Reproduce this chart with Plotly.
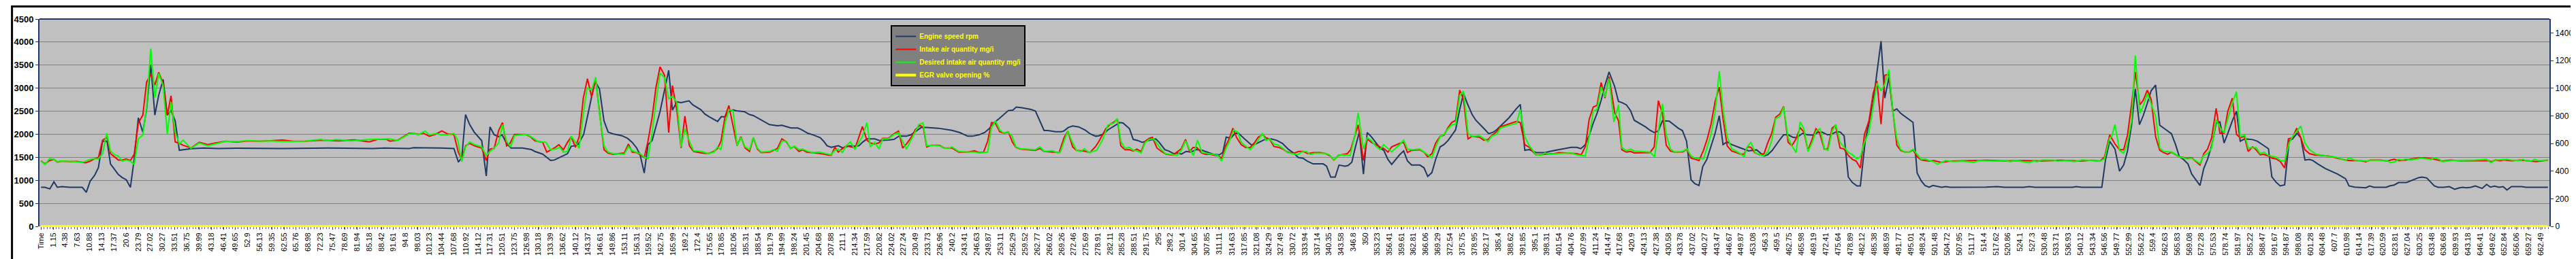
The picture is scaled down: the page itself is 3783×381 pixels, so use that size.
import plotly.graph_objects as go

# ---------------- data (time s, value) ----------------
tick_labels = ["Time", "1.15", "4.38", "7.63", "10.88", "14.13", "17.37", "20.6", "23.79", "27.02", "30.27",
    "33.51", "36.75", "39.99", "43.18", "46.41", "49.65", "52.9", "56.13", "59.35", "62.55", "65.76", "68.98",
    "72.23", "75.47", "78.69", "81.94", "85.18", "88.42", "91.61", "94.8", "98.03", "101.23", "104.44", "107.68",
    "110.92", "114.12", "117.31", "120.51", "123.75", "126.98", "130.18", "133.39", "136.62", "140.12", "143.37",
    "146.61", "149.86", "153.11", "156.31", "159.52", "162.75", "165.99", "169.2", "172.4", "175.65", "178.85",
    "182.06", "185.31", "188.54", "191.79", "194.99", "198.24", "201.45", "204.68", "207.88", "211.1", "214.34",
    "217.59", "220.82", "224.02", "227.24", "230.49", "233.73", "236.96", "240.2", "243.41", "246.63", "249.87",
    "253.11", "256.29", "259.52", "262.77", "266.02", "269.26", "272.46", "275.69", "278.91", "282.11", "285.28",
    "288.51", "291.75", "295", "298.2", "301.4", "304.65", "307.85", "311.11", "314.63", "317.85", "321.08",
    "324.29", "327.49", "330.72", "333.94", "337.14", "340.35", "343.58", "346.8", "350", "353.23", "356.41",
    "359.61", "362.81", "366.06", "369.29", "372.54", "375.75", "378.95", "382.17", "385.4", "388.62", "391.85",
    "395.1", "398.31", "401.54", "404.76", "407.99", "411.24", "414.47", "417.68", "420.9", "424.13", "427.38",
    "430.58", "433.78", "437.02", "440.27", "443.47", "446.67", "449.87", "453.08", "456.3", "459.5", "462.75",
    "465.98", "469.19", "472.41", "475.64", "478.89", "482.12", "485.38", "488.59", "491.77", "495.01", "498.24",
    "501.48", "504.72", "507.95", "511.17", "514.4", "517.62", "520.86", "524.1", "527.3", "530.48", "533.71",
    "536.93", "540.12", "543.34", "546.56", "549.77", "552.99", "556.22", "559.4", "562.63", "565.83", "569.08",
    "572.28", "575.53", "578.74", "581.97", "585.22", "588.47", "591.67", "594.87", "598.08", "601.28", "604.48",
    "607.7", "610.98", "614.14", "617.39", "620.59", "623.81", "627.04", "630.25", "633.48", "636.68", "639.93",
    "643.18", "646.41", "649.62", "652.84", "656.06", "659.27", "662.49"]
time_row_position = -2.08  # the "Time" header category sits one label step before 1.15

engine_speed_rpm = [
    (-2.06, 848), (-1.03, 848), (0.29, 813), (1.37, 966), (2.27, 848), (3.48, 863), (5.5, 848), (7.0, 853),
    (8.9, 848), (9.98, 740), (11.0, 981), (12.2, 1109), (13.2, 1277), (14.3, 1849), (15.5, 1849), (16.4, 1356),
    (17.5, 1233), (18.5, 1124), (19.5, 1060), (20.6, 1011), (21.7, 848), (22.7, 1454), (23.8, 2357), (25.0, 2046),
    (26.0, 2539), (27.1, 3515), (28.2, 2416), (29.2, 2835), (30.4, 3190), (31.5, 2416), (32.5, 2514), (33.6, 2292),
    (34.7, 1652), (35.7, 1666), (37.8, 1686), (41.1, 1701), (45, 1691), (50, 1696), (55, 1691), (60, 1696),
    (62.1, 1691), (74.2, 1701), (86.2, 1691), (89.2, 1701), (95.8, 1691), (97.0, 1706), (100.6, 1706),
    (104.2, 1701), (107.7, 1691), (108.9, 1395), (109.8, 1494), (110.8, 2426), (111.9, 2209), (113.1, 2046),
    (115.1, 1859), (116.3, 1094), (117.3, 2159), (118.4, 1987), (119.6, 1947), (120.5, 1987), (121.7, 1800),
    (122.9, 1701), (125.9, 1701), (128.3, 1666), (129.2, 1627), (131.3, 1568), (132.5, 1489), (133.4, 1430),
    (134.4, 1440), (136.8, 1528), (137.9, 1578), (138.9, 1740), (140.0, 1750), (140.7, 1775), (142.2, 1997),
    (143.1, 2342), (144.3, 2835), (145.2, 3155), (146.4, 2983), (147.6, 2292), (148.7, 2046), (150.0, 2007),
    (151.2, 1987), (152.4, 1967), (153.9, 1908), (155.1, 1824), (156.3, 1701), (157.2, 1553), (158.3, 1159),
    (159.3, 1775), (160.4, 1864), (161.4, 2145), (162.5, 2490), (163.7, 2958), (164.8, 3387), (165.8, 2524),
    (167.0, 2702), (168.1, 2687), (170.2, 2726), (171.2, 2638), (173.4, 2529), (174.4, 2440), (175.6, 2376),
    (177.8, 2278), (178.8, 2381), (179.8, 2376), (180.7, 2490), (181.9, 2529), (182.8, 2509), (184.9, 2490),
    (186.3, 2426), (187.3, 2406), (189.8, 2292), (191.6, 2209), (193.7, 2184), (194.9, 2194), (197.3, 2135),
    (199.1, 2135), (200.0, 2105), (201.8, 2021), (203.3, 1982), (205.1, 1923), (206.0, 1849), (206.9, 1750),
    (208.0, 1716), (209.9, 1750), (211.1, 1701), (212.9, 1750), (214.4, 1740), (215.4, 1750), (216.3, 1824),
    (217.5, 1898), (219.6, 1898), (220.8, 1864), (223.2, 1873), (224.7, 1888), (226.1, 1962), (228.0, 1957),
    (229.2, 1987), (230.4, 2056), (231.9, 2145), (233.4, 2145), (236.5, 2130), (240.1, 2085), (242.2, 2036),
    (244.3, 1957), (245.5, 1957), (247.3, 1987), (248.8, 2036), (250.0, 2120), (251.2, 2243), (252.7, 2342),
    (255.1, 2514), (256.3, 2524), (257.2, 2588), (258.7, 2573), (261.1, 2539), (262.3, 2504), (263.5, 2292),
    (264.6, 2080), (265.6, 2080), (267.7, 2056), (269.2, 2056), (269.9, 2071), (271.0, 2145), (272.2, 2179),
    (273.8, 2159), (275.6, 2085), (276.8, 2011), (278.3, 1957), (279.2, 1967), (280.4, 2007), (281.6, 2095),
    (282.3, 2130), (283.5, 2194), (284.7, 2253), (285.6, 2243), (287.3, 2120), (288.3, 1888), (289.5, 1864),
    (290.7, 1824), (292.2, 1864), (294.3, 1898), (295.2, 1824), (296.7, 1666), (297.7, 1637), (299.1, 1578),
    (300.0, 1592), (301.1, 1568), (302.4, 1627), (303.6, 1612), (305.1, 1666), (306.6, 1652), (308.1, 1612),
    (309.6, 1563), (311.2, 1553), (312.1, 1602), (313.0, 1937), (314.2, 1913), (315.4, 2021), (316.3, 2021),
    (318.1, 1883), (319.6, 1775), (320.5, 1775), (322.0, 1834), (323.2, 1883), (324.1, 1888), (325.0, 1898),
    (326.5, 1864), (328.0, 1800), (329.5, 1676), (330.9, 1592), (332.2, 1494), (333.4, 1479), (334.6, 1415),
    (336.1, 1356), (338.8, 1356), (339.7, 1306), (340.8, 1070), (342.0, 1070), (343.0, 1331), (344.6, 1306),
    (345.4, 1321), (346.4, 1390), (347.3, 1701), (348.4, 2046), (349.5, 1134), (350.5, 2036), (351.6, 1947),
    (352.7, 1824), (353.9, 1701), (354.9, 1652), (356.0, 1454), (357.0, 1346), (358.1, 1454), (359.1, 1553),
    (360.2, 1637), (361.2, 1420), (362.3, 1331), (364.5, 1331), (365.6, 1272), (366.6, 1085), (367.7, 1168),
    (368.7, 1454), (369.9, 1726), (370.9, 1775), (372.0, 1864), (373.0, 1987), (374.0, 2095), (375.1, 2539),
    (376.1, 2884), (377.2, 2652), (378.4, 2426), (379.4, 2302), (380.6, 2209), (381.7, 2110), (382.8, 2011),
    (384.0, 2046), (384.9, 2095), (386.1, 2194), (388.2, 2357), (390.0, 2539), (391.2, 2647), (392.4, 1652),
    (393.6, 1666), (395.4, 1602), (397.8, 1602), (399.0, 1627), (400.5, 1652), (402.3, 1686), (404.7, 1716),
    (406.2, 1716), (407.3, 1686), (408.5, 1775), (409.5, 1972), (410.6, 2243), (411.6, 2450), (412.7, 2736),
    (413.7, 3057), (414.8, 3352), (416.3, 3032), (417.3, 2712), (418.2, 2687), (419.4, 2638), (420.5, 2514),
    (421.5, 2302), (422.7, 2243), (424.5, 2159), (425.7, 2085), (426.8, 2036), (427.9, 2071), (429.0, 2292),
    (430.8, 2283), (432.0, 2204), (433.2, 2130), (434.3, 2080), (435.4, 1849), (436.6, 1011), (437.6, 927),
    (438.7, 887), (439.7, 1297), (440.8, 1454), (441.8, 1701), (443.0, 2021), (444.1, 2401), (445.1, 1775),
    (446.2, 1834), (447.4, 1775), (449.8, 1701), (451.9, 1637), (454.0, 1661), (456.0, 1528), (457.0, 1553),
    (458.2, 1652), (460.0, 1859), (461.2, 1987), (462.4, 1987), (463.6, 1937), (464.6, 1923), (466.3, 2021),
    (467.5, 1987), (469.0, 1982), (470.2, 2036), (471.4, 2046), (472.9, 1987), (473.8, 1997), (475.4, 2056),
    (476.3, 2046), (477.3, 1962), (478.4, 1070), (479.5, 951), (480.7, 878), (481.6, 878), (482.9, 1849),
    (483.9, 2243), (485.0, 2687), (486.0, 3328), (487.1, 4018), (488.1, 2785), (489.2, 3229), (490.2, 2504),
    (491.3, 2549), (492.3, 2455), (493.4, 2391), (494.6, 2317), (495.6, 2258), (496.7, 1159), (497.8, 986),
    (498.8, 887), (499.9, 848), (500.9, 887), (501.9, 873), (503.2, 848), (504.3, 863), (505.5, 848),
    (515.0, 853), (518.0, 863), (520.0, 848), (525.0, 848), (526.5, 863), (528.0, 848), (538.0, 848),
    (539.0, 863), (540.5, 848), (545.8, 848), (546.8, 1454), (547.9, 1849), (549.3, 1676), (550.5, 1198),
    (551.6, 1331), (552.6, 1627), (553.7, 2194), (554.7, 2983), (555.8, 2209), (556.8, 2401), (557.9, 2672),
    (558.9, 2943), (560.1, 3066), (561.2, 2194), (562.2, 2135), (564.3, 2011), (565.4, 1775), (566.4, 1514),
    (567.5, 1454), (568.7, 1356), (569.7, 1134), (570.8, 1011), (571.9, 887), (572.9, 1257), (573.9, 1454),
    (575.0, 1750), (576.2, 2243), (577.2, 2268), (578.3, 1809), (579.3, 2021), (580.5, 2292), (581.6, 2500),
    (582.6, 1849), (583.8, 1898), (585.9, 1883), (587.1, 1849), (588.9, 1750), (590.1, 1686), (591.0, 1075),
    (592.1, 961), (593.2, 878), (594.4, 902), (595.6, 1859), (596.5, 1898), (597.7, 2021), (598.7, 1923),
    (599.8, 1440), (601.0, 1454), (601.9, 1430), (603.2, 1356), (605.2, 1257), (608.5, 1134), (610.6, 1035),
    (611.5, 878), (613.0, 853), (616.0, 838), (617.0, 878), (618.1, 848), (621.4, 848), (622.3, 878),
    (623.5, 897), (624.7, 951), (626.8, 951), (628.9, 1021), (630.1, 1060), (631.0, 1070), (632.2, 1050),
    (633.1, 971), (634.2, 878), (635.2, 848), (636.7, 848), (638.2, 863), (639.6, 804), (640.9, 838),
    (641.8, 848), (642.7, 838), (643.9, 848), (645.1, 878), (646.9, 823), (648.1, 912), (649.1, 853),
    (650.2, 873), (651.4, 848), (652.5, 863), (653.5, 789), (654.7, 863), (657.4, 863), (658.6, 848),
    (664.4, 848)]

intake_air_mg = [
    (-2.06, 475), (-1.03, 452), (0.2, 476), (1.37, 485), (2.27, 465), (3.48, 472), (5.5, 468), (7.5, 470),
    (9.8, 460), (11.0, 472), (12.2, 490), (13.2, 498), (14.3, 624), (15.5, 644), (16.4, 526), (17.5, 501),
    (18.5, 480), (19.5, 480), (20.6, 488), (21.7, 476), (22.7, 522), (23.8, 748), (25.0, 805), (26.0, 1043),
    (27.1, 1101), (28.2, 1022), (29.2, 1114), (30.4, 1035), (31.5, 802), (32.5, 945), (33.6, 611), (34.7, 600),
    (35.7, 587), (37.8, 567), (40.0, 608), (42.3, 591), (44.1, 603), (47.1, 616), (50, 610), (53, 618),
    (56, 616), (59, 620), (62.1, 624), (65, 616), (68, 616), (72.3, 623), (77.1, 619), (81.4, 626), (85.2, 611),
    (87.4, 629), (89.8, 629), (90.7, 616), (92.8, 624), (95.8, 674), (97.0, 672), (98.3, 665), (99.5, 674),
    (101.2, 652), (103.0, 669), (104.5, 690), (106.0, 669), (107.7, 665), (108.9, 534), (109.8, 485),
    (110.8, 583), (111.9, 600), (113.2, 583), (115.1, 567), (116.3, 476), (117.3, 559), (118.4, 564),
    (119.6, 693), (120.6, 751), (121.7, 583), (122.6, 600), (123.8, 665), (126.8, 665), (128.0, 649),
    (129.2, 619), (131.3, 608), (132.4, 537), (134.4, 567), (135.6, 591), (136.8, 554), (137.9, 608),
    (138.9, 649), (140.0, 572), (141.0, 649), (142.1, 928), (143.2, 1068), (144.3, 937), (145.4, 1060),
    (146.4, 830), (147.6, 555), (148.7, 529), (150.0, 521), (151.5, 526), (153.0, 531), (154.1, 596),
    (155.1, 537), (156.3, 534), (157.2, 518), (158.3, 498), (159.3, 616), (160.4, 789), (161.4, 1002),
    (162.5, 1155), (163.7, 1093), (164.8, 679), (165.8, 1019), (167.0, 833), (168.1, 567), (169.1, 797),
    (170.3, 583), (171.4, 542), (173.5, 531), (175.3, 526), (176.8, 542), (177.8, 564), (178.7, 616),
    (179.8, 797), (180.8, 874), (181.9, 731), (183.0, 583), (184.0, 649), (185.1, 567), (186.3, 542),
    (187.3, 641), (188.4, 559), (189.4, 534), (191.7, 537), (193.7, 564), (194.9, 633), (196.1, 611),
    (197.2, 564), (198.2, 578), (199.4, 542), (200.4, 554), (201.5, 537), (203.0, 534), (205.4, 526),
    (206.9, 518), (208.0, 514), (209.0, 572), (209.9, 537), (210.8, 559), (212.0, 583), (213.2, 575),
    (214.4, 570), (215.4, 649), (216.3, 723), (217.5, 624), (218.4, 603), (219.6, 596), (220.8, 605),
    (221.7, 637), (223.2, 637), (224.7, 670), (225.9, 690), (227.0, 567), (228.0, 596), (229.2, 641),
    (230.4, 702), (231.6, 731), (232.5, 715), (233.4, 575), (234.6, 587), (236.8, 587), (238.0, 567),
    (240.1, 567), (241.9, 537), (244.3, 537), (246.1, 547), (247.3, 534), (248.5, 537), (249.6, 616),
    (250.6, 751), (251.6, 748), (252.8, 685), (253.9, 674), (255.1, 682), (256.2, 608), (257.1, 572),
    (258.3, 559), (262.3, 550), (263.5, 564), (264.6, 542), (267.1, 537), (268.6, 534), (269.9, 641),
    (270.9, 690), (272.2, 575), (273.2, 550), (275.3, 545), (276.8, 534), (278.3, 578), (279.2, 616),
    (281.0, 706), (282.2, 739), (283.2, 756), (284.1, 777), (285.0, 583), (286.1, 555), (287.3, 554),
    (288.3, 545), (289.3, 559), (290.4, 542), (291.5, 616), (292.5, 636), (293.4, 644), (294.6, 567),
    (295.8, 542), (297.0, 522), (298.2, 518), (299.1, 518), (300.0, 539), (301.1, 562), (302.2, 629),
    (303.3, 542), (304.2, 570), (305.2, 570), (306.5, 531), (307.5, 521), (308.7, 521), (309.9, 514),
    (310.8, 513), (311.8, 493), (312.9, 583), (313.8, 633), (314.8, 710), (315.8, 641), (317.0, 591),
    (318.2, 570), (319.4, 570), (320.6, 608), (321.5, 644), (322.7, 665), (323.6, 641), (324.5, 633),
    (325.7, 578), (326.9, 572), (328.1, 559), (329.3, 537), (330.8, 526), (332.3, 542), (333.5, 542),
    (334.7, 526), (336.2, 534), (338.0, 534), (339.5, 526), (340.7, 509), (341.6, 480), (342.8, 513),
    (344.3, 521), (345.2, 526), (346.1, 555), (347.2, 649), (348.1, 734), (349.5, 476), (350.5, 633),
    (351.6, 608), (352.7, 591), (353.9, 575), (354.9, 564), (356.0, 537), (357.0, 575), (359.1, 600),
    (360.2, 608), (361.2, 534), (362.3, 550), (364.5, 554), (365.6, 537), (366.6, 504), (367.7, 526),
    (368.7, 603), (369.9, 652), (370.9, 660), (372.0, 715), (373.0, 752), (374.0, 767), (375.1, 986),
    (376.1, 920), (377.3, 633), (378.4, 652), (380.3, 646), (381.5, 624), (382.6, 628), (383.6, 657),
    (384.9, 685), (385.9, 720), (388.2, 739), (390.2, 759), (391.2, 751), (392.4, 591), (393.6, 572),
    (394.5, 542), (395.4, 518), (396.6, 518), (397.8, 522), (400.2, 526), (401.4, 534), (404.7, 531),
    (406.2, 526), (407.4, 518), (408.5, 578), (409.5, 772), (410.6, 863), (411.6, 876), (412.7, 1040),
    (413.7, 928), (414.8, 1084), (416.3, 822), (417.3, 764), (418.2, 554), (419.4, 537), (420.5, 542),
    (421.5, 531), (425.7, 534), (426.8, 575), (427.9, 909), (429.0, 813), (430.0, 587), (431.1, 545),
    (432.2, 537), (434.4, 539), (435.5, 559), (436.6, 493), (437.7, 485), (438.7, 476), (439.9, 550),
    (440.9, 633), (441.9, 739), (443.0, 904), (444.1, 1007), (445.1, 780), (446.2, 583), (447.4, 545),
    (448.6, 534), (449.7, 522), (450.7, 522), (451.6, 575), (452.5, 572), (453.6, 531), (454.9, 518),
    (456.0, 526), (457.0, 605), (458.0, 669), (459.1, 789), (460.2, 813), (461.2, 867), (462.4, 608),
    (463.4, 583), (464.5, 633), (465.6, 715), (466.6, 682), (467.7, 550), (468.8, 633), (469.8, 706),
    (470.8, 674), (472.0, 559), (472.9, 559), (474.1, 710), (475.0, 731), (476.2, 567), (477.3, 559),
    (478.4, 513), (479.5, 485), (480.5, 472), (481.6, 422), (482.7, 665), (483.9, 764), (485.0, 961),
    (486.0, 1052), (487.1, 739), (488.1, 1093), (489.2, 1101), (490.2, 846), (491.3, 587), (492.3, 550),
    (493.5, 537), (494.6, 537), (495.6, 554), (496.7, 504), (497.8, 481), (499.9, 472), (501.1, 476),
    (502.3, 468), (503.2, 463), (505.5, 472), (510, 475), (515, 478), (520, 473), (525, 476), (530, 473),
    (535, 478), (540, 472), (543, 478), (545.3, 472), (546.5, 501), (547.9, 662), (549.3, 596), (550.5, 554),
    (551.6, 554), (552.6, 657), (553.7, 879), (554.7, 1117), (555.9, 879), (556.8, 912), (557.9, 986),
    (558.9, 920), (560.1, 649), (561.2, 550), (562.2, 534), (563.3, 522), (564.3, 537), (566.4, 504),
    (568.5, 493), (569.7, 496), (570.8, 468), (571.9, 444), (572.9, 526), (573.9, 559), (575.0, 641),
    (576.2, 854), (577.2, 674), (578.3, 674), (579.3, 833), (580.5, 928), (581.6, 665), (582.6, 641),
    (583.7, 652), (584.7, 542), (585.9, 575), (586.8, 554), (587.9, 518), (588.9, 521), (590.1, 509),
    (591.1, 493), (592.1, 488), (593.3, 468), (594.4, 422), (595.4, 633), (596.5, 641), (597.6, 710),
    (598.7, 641), (599.8, 554), (601.0, 526), (602.2, 518), (603.7, 514), (606.1, 509), (608.5, 493),
    (610.6, 480), (612.1, 476), (614.5, 476), (616.0, 468), (617.2, 480), (619.9, 480), (621.7, 473),
    (623.5, 485), (624.7, 476), (626.5, 480), (628.3, 488), (630.1, 496), (631.9, 496), (633.7, 488),
    (636.4, 472), (638.5, 480), (640.9, 475), (648.7, 475), (649.3, 468), (650.5, 480), (651.7, 475),
    (652.6, 481), (654.7, 475), (657.1, 480), (658.9, 475), (661.3, 468), (664.4, 480)]

desired_intake_air_mg = [
    (-2.06, 472), (-1.0, 447), (0.2, 490), (1.37, 485), (2.27, 468), (3.48, 472), (5.5, 470), (8.9, 463),
    (11.0, 485), (12.2, 490), (13.2, 488), (14.3, 526), (15.4, 674), (16.4, 545), (17.5, 518), (18.5, 509),
    (19.5, 472), (20.6, 480), (21.7, 472), (22.7, 447), (23.8, 633), (25.0, 662), (26.0, 863), (27.1, 1286),
    (28.2, 932), (29.2, 1106), (30.4, 1019), (31.5, 669), (32.5, 899), (33.6, 682), (34.7, 596), (35.7, 624),
    (37.8, 564), (40.0, 603), (42.3, 583), (44.1, 596), (47.1, 616), (50, 613), (53, 621), (56, 616),
    (59, 619), (62.1, 613), (65, 616), (68, 616), (72.3, 629), (74.0, 619), (76.5, 628), (80.2, 619),
    (84.9, 628), (90.5, 633), (92.8, 621), (95.8, 669), (97.0, 672), (98.3, 662), (100.0, 690), (101.2, 662),
    (103.0, 672), (104.2, 662), (106.0, 662), (107.7, 672), (108.7, 624), (109.8, 468), (110.8, 575),
    (111.9, 611), (113.2, 591), (115.1, 575), (116.3, 513), (117.3, 542), (118.4, 567), (119.6, 603),
    (120.6, 736), (121.7, 616), (122.8, 575), (123.8, 657), (126.8, 665), (128.0, 652), (130.1, 613),
    (132.2, 608), (133.4, 555), (134.7, 559), (135.9, 572), (136.8, 537), (137.9, 542), (138.9, 652),
    (140.0, 608), (141.0, 564), (142.1, 813), (143.1, 1002), (144.3, 986), (145.4, 1079), (146.4, 813),
    (147.6, 583), (148.7, 537), (150.0, 526), (151.5, 524), (153.0, 522), (154.1, 578), (155.1, 547),
    (157.2, 526), (158.3, 501), (159.3, 490), (160.4, 682), (161.4, 895), (162.5, 1109), (163.7, 1076),
    (164.8, 923), (165.8, 941), (167.0, 895), (168.1, 575), (169.1, 706), (170.3, 616), (171.4, 547),
    (173.5, 542), (175.3, 526), (176.8, 537), (177.8, 575), (178.7, 555), (179.8, 748), (180.8, 843),
    (181.9, 838), (183.0, 583), (184.0, 644), (185.1, 575), (186.3, 555), (187.3, 644), (188.4, 564),
    (189.4, 537), (191.7, 542), (192.6, 555), (193.7, 545), (194.9, 616), (196.1, 616), (197.2, 564),
    (198.2, 580), (199.4, 555), (200.4, 559), (201.5, 545), (203.0, 534), (204.8, 537), (207.5, 518),
    (208.0, 518), (209.0, 550), (209.9, 559), (211.0, 534), (212.0, 583), (213.1, 611), (214.3, 559),
    (215.6, 619), (216.3, 649), (217.5, 751), (218.4, 575), (219.6, 608), (220.7, 559), (221.7, 633),
    (223.2, 633), (224.7, 665), (225.9, 677), (228.0, 559), (230.4, 682), (231.3, 736), (232.4, 748),
    (233.4, 583), (234.6, 587), (236.8, 583), (238.0, 567), (239.2, 564), (240.1, 575), (241.9, 542),
    (244.3, 537), (246.1, 537), (247.3, 531), (249.6, 537), (250.6, 715), (251.7, 764), (252.8, 698),
    (253.9, 674), (254.9, 685), (256.0, 657), (257.1, 575), (258.3, 562), (262.3, 555), (263.5, 575),
    (264.6, 542), (266.8, 547), (268.0, 534), (268.9, 537), (269.9, 616), (270.9, 690), (272.0, 616),
    (273.2, 550), (274.4, 542), (275.3, 562), (276.5, 534), (278.6, 550), (280.1, 624), (281.6, 734),
    (283.2, 748), (284.1, 780), (285.0, 616), (286.1, 564), (287.3, 572), (288.3, 550), (289.3, 547),
    (290.4, 531), (291.5, 608), (292.5, 628), (293.7, 633), (294.8, 591), (295.8, 555), (296.9, 526),
    (298.2, 522), (300.0, 514), (301.1, 550), (302.2, 619), (303.3, 555), (304.3, 514), (305.4, 624),
    (306.6, 534), (307.8, 529), (309.6, 522), (310.8, 514), (311.8, 472), (312.9, 559), (313.8, 611),
    (315.0, 698), (316.1, 682), (317.0, 608), (318.2, 580), (319.4, 555), (320.6, 591), (321.5, 621),
    (322.6, 674), (323.6, 621), (324.6, 633), (325.7, 596), (326.9, 587), (328.1, 564), (329.3, 534),
    (330.8, 526), (332.0, 518), (333.2, 539), (334.3, 542), (335.3, 521), (336.5, 529), (339.2, 529),
    (340.4, 518), (341.6, 481), (342.8, 514), (344.0, 518), (346.0, 514), (347.3, 670), (348.1, 822),
    (349.5, 559), (350.5, 641), (351.6, 621), (352.7, 583), (353.9, 555), (354.9, 591), (357.0, 539),
    (359.1, 591), (360.2, 624), (361.2, 559), (362.3, 554), (364.5, 559), (365.6, 537), (366.6, 518),
    (367.7, 496), (368.7, 575), (369.9, 649), (370.9, 665), (372.0, 706), (373.1, 736), (374.0, 736),
    (375.1, 948), (376.1, 978), (377.3, 674), (378.4, 649), (380.3, 657), (381.5, 633), (382.6, 613),
    (383.6, 652), (384.9, 665), (385.9, 711), (388.2, 731), (390.2, 744), (391.2, 846), (392.4, 649),
    (393.6, 583), (395.4, 518), (396.6, 514), (397.8, 531), (399.0, 521), (401.4, 526), (404.7, 531),
    (406.2, 518), (408.5, 509), (409.5, 649), (410.6, 833), (411.6, 846), (412.7, 1007), (413.7, 936),
    (414.8, 1068), (416.1, 756), (417.3, 879), (418.2, 570), (419.4, 547), (420.5, 559), (421.5, 545),
    (425.7, 537), (426.9, 504), (427.9, 690), (429.0, 887), (430.0, 665), (431.1, 559), (432.2, 537),
    (434.4, 542), (435.5, 562), (436.6, 509), (437.7, 493), (439.9, 488), (440.9, 575), (441.9, 665),
    (443.0, 830), (444.1, 1122), (445.1, 846), (446.2, 649), (447.4, 562), (449.7, 526), (450.7, 504),
    (451.5, 575), (452.5, 608), (453.7, 531), (455.8, 509), (457.0, 537), (458.0, 616), (459.1, 780),
    (460.2, 794), (461.2, 863), (462.4, 641), (463.4, 583), (464.5, 534), (465.6, 756), (466.6, 706),
    (467.7, 542), (468.8, 608), (469.8, 690), (470.9, 706), (472.0, 564), (473.0, 550), (474.1, 690),
    (475.1, 736), (476.2, 608), (477.3, 575), (478.4, 534), (479.5, 518), (480.7, 488), (481.6, 504),
    (482.7, 608), (483.9, 682), (485.0, 879), (486.0, 1035), (487.1, 981), (488.1, 1027), (489.2, 1134),
    (490.2, 838), (491.3, 633), (492.3, 555), (493.5, 537), (494.6, 537), (495.6, 559), (496.7, 521),
    (497.8, 485), (498.8, 488), (499.9, 476), (501.1, 468), (502.1, 449), (503.2, 463), (504.3, 476),
    (506.4, 468), (508.8, 472), (511.8, 463), (513.0, 476), (517.8, 472), (520.2, 476), (521.4, 468),
    (523.2, 476), (526.5, 460), (527.7, 473), (528.6, 468), (529.8, 480), (532.8, 480), (534.0, 472),
    (536.4, 476), (538.5, 468), (540.6, 481), (545.3, 472), (546.5, 488), (547.9, 641), (548.4, 649),
    (549.3, 736), (550.5, 550), (551.6, 529), (552.6, 600), (553.7, 764), (554.7, 1237), (555.9, 817),
    (556.8, 871), (557.9, 961), (558.9, 887), (560.1, 797), (561.2, 567), (562.2, 542), (564.5, 537),
    (566.4, 504), (568.5, 488), (569.7, 493), (571.9, 455), (572.9, 514), (573.9, 526), (575.0, 567),
    (576.2, 772), (577.2, 715), (578.3, 677), (579.3, 772), (580.5, 895), (581.6, 974), (582.6, 649),
    (583.8, 660), (584.7, 567), (586.8, 570), (587.9, 526), (588.9, 537), (590.1, 513), (592.1, 501),
    (593.3, 476), (594.4, 473), (595.6, 603), (596.5, 649), (597.7, 690), (598.7, 726), (599.8, 603),
    (601.0, 555), (602.8, 521), (605.5, 509), (608.5, 498), (610.6, 476), (611.5, 496), (613.0, 480),
    (616.3, 472), (617.5, 480), (621.7, 475), (622.6, 460), (623.8, 468), (624.7, 485), (625.6, 480),
    (626.8, 488), (627.7, 480), (630.7, 493), (632.2, 490), (633.4, 485), (634.3, 496), (635.5, 485),
    (636.4, 468), (638.5, 476), (645.1, 480), (648.1, 485), (649.3, 460), (650.2, 480), (653.5, 485),
    (654.7, 480), (657.1, 476), (657.7, 485), (658.6, 473), (660.0, 473), (660.9, 485), (661.8, 476),
    (664.4, 480)]

egr_valve_pct = [(-2.06, 0), (100, 0), (200, 0), (300, 0), (400, 0), (500, 0), (600, 0), (664.4, 0)]

series_names = ["Engine speed rpm", "Intake air quantity mg/i",
                "Desired intake air quantity mg/i", "EGR valve opening %"]

# ---------------- figure ----------------
W, H = 3783, 381
ML, MR, MT, MB = 42, 44, 20, 56
NAVY = "#1F3864"

def split(points):
    return [p[0] for p in points], [p[1] for p in points]

fig = go.Figure()
for pts, name, color, axis, width in [
        (engine_speed_rpm, series_names[0], NAVY, "y", 2),
        (intake_air_mg, series_names[1], "#FF0000", "y2", 2),
        (desired_intake_air_mg, series_names[2], "#00FF00", "y2", 2),
        (egr_valve_pct, series_names[3], "#FFFF00", "y2", 4)]:
    xs, ys = split(pts)
    fig.add_trace(go.Scatter(x=xs, y=ys, name=name, mode="lines", yaxis=axis,
                             line=dict(color=color, width=width)))

tick_vals = [time_row_position if s == "Time" else float(s) for s in tick_labels]

pw = W - ML - MR
ph = H - MT - MB
fx0, fx1 = (1.5 - ML) / pw, (W - 1.5 - ML) / pw
fy0, fy1 = (1.5 - MB) / ph, (H - MB - 1.5) / ph

fig.update_layout(
    width=W, height=H, autosize=False,
    margin=dict(l=ML, r=MR, t=MT, b=MB, pad=0),
    paper_bgcolor="white", plot_bgcolor="#C0C0C0",
    font=dict(family="Liberation Sans, Arial", color="black"),
    showlegend=True,
    legend=dict(x=(1296 - ML) / pw, y=(H - MB - 29) / ph, xanchor="left", yanchor="top",
                bgcolor="#808080", bordercolor="black", borderwidth=2,
                font=dict(family="Liberation Sans, Arial", size=10, color="#FFFF00", weight="bold"),
                itemwidth=30, tracegroupgap=0),
    xaxis=dict(range=[-2.47, 664.8], tickmode="array", tickvals=tick_vals, ticktext=tick_labels,
               tickangle=-90, tickfont=dict(size=11, color="black"),
               showgrid=False, zeroline=False, showline=False,
               ticks="outside", ticklen=4, tickcolor="#404060", tickwidth=1,
               minor=dict(tickmode="linear", tick0=time_row_position, dtick=0.807,
                          ticks="outside", ticklen=3, tickcolor="#606070", showgrid=False)),
    yaxis=dict(range=[0, 4500], tickmode="linear", tick0=0, dtick=500,
               tickfont=dict(size=13, color="black", weight="bold"),
               showgrid=True, gridcolor="#808080", gridwidth=1, zeroline=False,
               showline=True, linecolor=NAVY, linewidth=2,
               ticks="outside", ticklen=4, tickcolor=NAVY),
    yaxis2=dict(range=[0, 1500], overlaying="y", side="right",
                tickmode="array", tickvals=[0, 200, 400, 600, 800, 1000, 1200, 1400],
                tickfont=dict(size=12, color="black"),
                showgrid=False, zeroline=False,
                showline=True, linecolor=NAVY, linewidth=2,
                ticks="outside", ticklen=4, tickcolor=NAVY),
    shapes=[
        dict(type="line", xref="paper", yref="paper", x0=0, x1=1, y0=1, y1=1,
             line=dict(color=NAVY, width=2)),
        dict(type="rect", xref="paper", yref="paper", x0=fx0, x1=fx1, y0=fy0, y1=fy1,
             line=dict(color="black", width=3), layer="above"),
    ],
)

fig.write_html("out.html")
